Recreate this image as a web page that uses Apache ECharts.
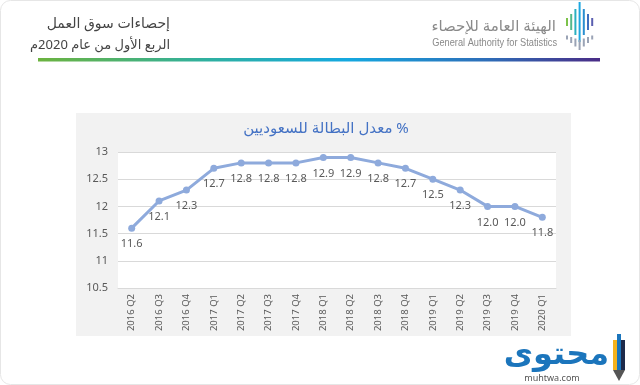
<!DOCTYPE html>
<html>
<head>
<meta charset="utf-8">
<script src="https://cdn.jsdelivr.net/npm/echarts@6/dist/echarts.min.js"></script>
<style>
html,body{margin:0;padding:0;background:#fff;}
#chart{width:640px;height:385px;}
</style>
</head>
<body>
<div id="chart"></div>
<script>
var categories = ['2016 Q2','2016 Q3','2016 Q4','2017 Q1','2017 Q2','2017 Q3','2017 Q4','2018 Q1','2018 Q2','2018 Q3','2018 Q4','2019 Q1','2019 Q2','2019 Q3','2019 Q4','2020 Q1'];
var unemployment = [11.6,12.1,12.3,12.7,12.8,12.8,12.8,12.9,12.9,12.8,12.7,12.5,12.3,12.0,12.0,11.8];
var yTicks = [10.5,11,11.5,12,12.5,13];
var titleText = 'معدل البطالة للسعوديين %';
var headerLine1 = 'إحصاءات سوق العمل';
var headerLine2 = 'الربع الأول من عام 2020م';
var orgArabic = 'الهيئة العامة للإحصاء';
var orgEnglish = 'General Authority for Statistics';

var chart = echarts.init(document.getElementById('chart'), null, {renderer:'canvas'});
var font = 'Noto Sans, DejaVu Sans, sans-serif';

var logoBars = [];
var logoColors = ['#7cc24a','#55b88a','#2bb0c0','#1da7e0','#2a8fd0','#3d6fbf','#5a5fb0'];
var hts = [8,16,26,40,26,16,8];
for (var i = 0; i < 7; i++) {
  logoBars.push({type:'rect', shape:{x:566 + i*4.2, y:26 - hts[i]/2 - 4, width:2, height:hts[i]}, style:{fill:logoColors[i]}, silent:true});
  logoBars.push({type:'rect', shape:{x:566 + i*4.2, y:36 + Math.abs(3-i)*-1.5 + 4, width:2, height:4 + (3-Math.abs(3-i))*2}, style:{fill:'#9aa3b5'}, silent:true});
}

var option = {
  backgroundColor:'#ffffff',
  animation:false,
  graphic: [
    {type:'rect', z:-10, shape:{x:0.5,y:0.5,width:639,height:384,r:10}, style:{fill:'#fff', stroke:'#e6e6e6', lineWidth:1}, silent:true},
    {type:'rect', z:-5, shape:{x:76,y:113,width:495,height:223}, style:{fill:'#f2f2f2'}, silent:true},
    {type:'rect', shape:{x:38,y:58,width:562,height:3.5},
      style:{fill:new echarts.graphic.LinearGradient(0,0,1,0,[
        {offset:0,color:'#6cb33f'},{offset:0.3,color:'#2fb0a0'},{offset:0.55,color:'#14a8e0'},{offset:0.8,color:'#2e6db8'},{offset:1,color:'#4a2c86'}])}, silent:true},
    {type:'text', x:170, y:24, style:{text:headerLine1, fill:'#444', font:'14px ' + font, align:'right', verticalAlign:'middle'}},
    {type:'text', x:170, y:45, style:{text:headerLine2, fill:'#444', font:'13px ' + font, align:'right', verticalAlign:'middle'}},
    {type:'text', x:556, y:27, style:{text:orgArabic, fill:'#8a8a8a', font:'15px ' + font, align:'right', verticalAlign:'middle'}},
    {type:'text', x:557, y:43, scaleX:0.84, style:{text:orgEnglish, fill:'#8a8a8a', font:'11px "Liberation Sans", sans-serif', align:'right', verticalAlign:'middle'}},
    {type:'group', children: logoBars},
    {type:'text', x:326, y:129, style:{text:titleText, fill:'#4472c4', font:'15px ' + font, align:'center', verticalAlign:'middle'}},
    {type:'text', x:609, y:355, style:{text:'محتوى', fill:'#1b75bc', font:'bold 32px ' + font, align:'right', verticalAlign:'middle'}},
    {type:'text', x:552, y:378, style:{text:'muhtwa.com', fill:'#555', font:'9px ' + font, align:'center', verticalAlign:'middle'}},
    {type:'rect', shape:{x:613,y:340,width:4,height:30}, style:{fill:'#f6b21b'}, silent:true},
    {type:'rect', shape:{x:617,y:334,width:4,height:36}, style:{fill:'#1b75bc'}, silent:true},
    {type:'rect', shape:{x:621,y:340,width:4,height:30}, style:{fill:'#1d2a4a'}, silent:true},
    {type:'polygon', shape:{points:[[613,370],[625,370],[619,381]]}, style:{fill:'#555'}, silent:true}
  ],
  grid: {left:118, right:84, top:152, bottom:97, show:true, backgroundColor:'#ffffff', borderWidth:0, containLabel:false},
  xAxis: {
    type:'category', data:categories, boundaryGap:true,
    axisLine:{show:true, lineStyle:{color:'#d9d9d9', width:1}},
    axisTick:{show:false},
    axisLabel:{rotate:90, color:'#595959', fontSize:9.5, fontFamily:font, margin:6, interval:0}
  },
  yAxis: {
    type:'value', min:10.5, max:13, interval:0.5,
    axisLine:{show:false}, axisTick:{show:false},
    splitLine:{show:true, lineStyle:{color:'#d9d9d9', width:1}},
    axisLabel:{color:'#595959', fontSize:11, fontFamily:font, margin:10,
      formatter:function(v){ return yTicks.indexOf(v) >= 0 ? String(v) : ''; }}
  },
  series: [{
    type:'line', data:unemployment,
    symbol:'circle', symbolSize:7,
    lineStyle:{color:'#8eaadc', width:3},
    itemStyle:{color:'#8eaadc'},
    label:{show:true, position:'bottom', distance:7, color:'#595959', fontSize:11, fontFamily:font,
      formatter:function(p){ return p.value.toFixed(1); }}
  }]
};
chart.setOption(option);
</script>
</body>
</html>
